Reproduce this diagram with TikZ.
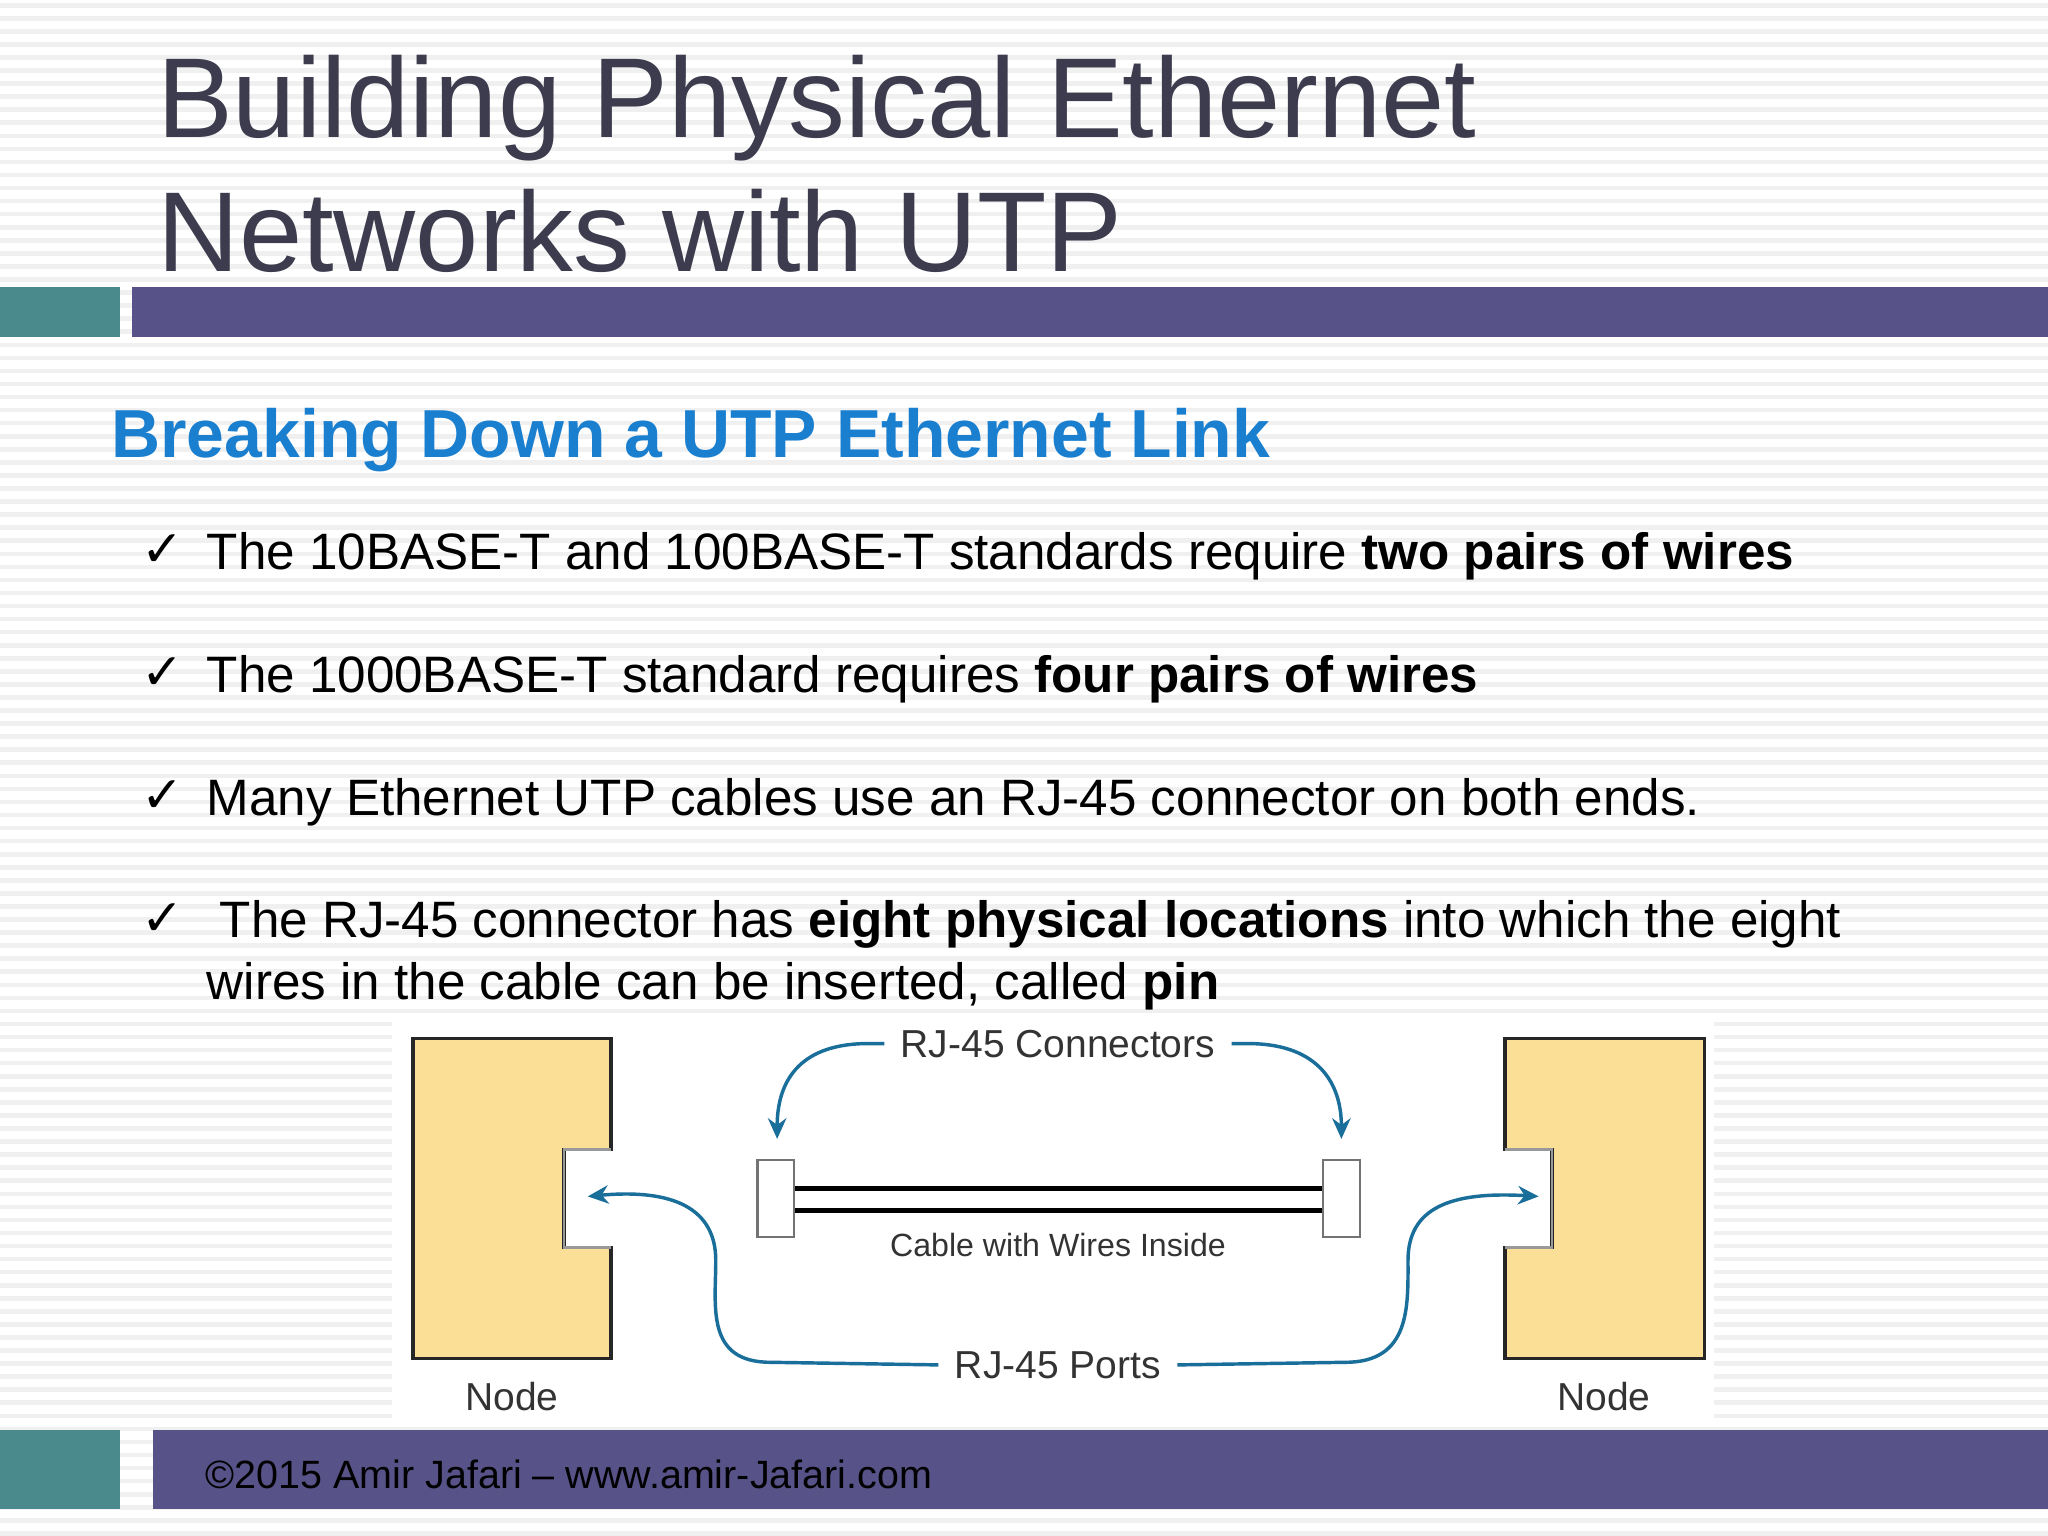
\documentclass[tikz,border=0pt]{standalone}
\usepackage{fontspec}
\setmainfont{Liberation Sans}
\usetikzlibrary{arrows.meta}
\newfontfamily\symf{DejaVu Sans}
\definecolor{barpurple}{HTML}{575287}
\definecolor{barteal}{HTML}{4A8A8C}
\definecolor{titlegray}{HTML}{3C3C4E}
\definecolor{subblue}{HTML}{1A7FCF}
\definecolor{nodefill}{HTML}{FBDF97}
\definecolor{arrowblue}{HTML}{1A6E9A}
\tikzset{
  bullet/.style={anchor=base west,font=\fontsize{22.3}{26}\selectfont,text=black,inner sep=0},
  chk/.style={anchor=base west,font=\symf\fontsize{22}{24}\selectfont,inner sep=0},
  pc/.style={fill=nodefill,draw=black!85,line width=1.6pt},
  conn/.style={fill=white,draw=black!55,line width=1pt},
  flow/.style={draw=arrowblue,line width=1.5pt,-{Stealth[length=9pt,width=8pt]}},
  dlabel/.style={font=\fontsize{17}{20}\selectfont,text=black!80,inner sep=2pt},
  glabel/.style={dlabel,inner xsep=7pt}
}
\begin{document}
\begin{tikzpicture}[x=0.02cm,y=-0.02cm]
\useasboundingbox (0,0) rectangle (1568,1176);
\fill[white] (0,0) rectangle (1568,1176);
\foreach \y in {4,14,...,1176} \draw[black!6,line width=2pt] (0,\y) -- (1568,\y);
% title
\node[anchor=base west,inner sep=0,text=titlegray,font=\fontsize{49.5}{58}\selectfont] (t1) at (120,105) {Building Physical Ethernet};
\node[anchor=base west,inner sep=0,text=titlegray,font=\fontsize{49.5}{58}\selectfont] (t2) at (120,208) {Networks with UTP};
\fill[barteal] (0,220) rectangle (92,258);
\fill[barpurple] (101,220) rectangle (1568,258);
\node[anchor=base west,inner sep=0,text=subblue,font=\bfseries\fontsize{29.6}{34}\selectfont] (sub) at (85,350) {Breaking Down a UTP Ethernet Link};
% bullets
\node[chk] (c1) at (108,434) {✓};
\node[bullet] (b1) at (158,436) {The 10BASE-T and 100BASE-T standards require \textbf{two pairs of wires}};
\node[chk] (c2) at (108,528) {✓};
\node[bullet] (b2) at (158,530) {The 1000BASE-T standard requires \textbf{four pairs of wires}};
\node[chk] (c3) at (108,622) {✓};
\node[bullet] (b3) at (158,624) {Many Ethernet UTP cables use an RJ-45 connector on both ends.};
\node[chk] (c4) at (108,716) {✓};
\node[bullet] (b4) at (168,718) {The RJ-45 connector has \textbf{eight physical locations} into which the eight};
\node[bullet] (b5) at (158,765) {wires in the cable can be inserted, called \textbf{pin}};
% diagram
\fill[white] (300,782) rectangle (1312,1090);
\draw[pc] (316,795) -- (468,795) -- (468,880) -- (432,880) -- (432,955) -- (468,955) -- (468,1040) -- (316,1040) -- cycle;
\draw[pc] (1305,795) -- (1152,795) -- (1152,880) -- (1188,880) -- (1188,955) -- (1152,955) -- (1152,1040) -- (1305,1040) -- cycle;
\fill[white] (433,882) rectangle (470,953);
\fill[white] (1150,882) rectangle (1187,953);
\draw[black!40,line width=1pt] (468,880)--(432,880)--(432,955)--(468,955);
\draw[black!40,line width=1pt] (1152,880)--(1188,880)--(1188,955)--(1152,955);
\node[conn,minimum width=28*0.02cm,minimum height=59*0.02cm] (lc) at (594,917.5) {};
\node[conn,minimum width=28*0.02cm,minimum height=59*0.02cm] (rc) at (1027,917.5) {};
\draw[black,line width=2pt] (lc.east|-0,910) -- (rc.west|-0,910);
\draw[black,line width=2pt] (lc.east|-0,927) -- (rc.west|-0,927);
\node[glabel] (rj) at (810,799) {RJ-45 Connectors};
\node[dlabel,font=\fontsize{14}{16}\selectfont] (cab) at (810,953) {Cable with Wires Inside};
\node[glabel] (ports) at (810,1045) {RJ-45 Ports};
\node[dlabel] (n1) at (392,1069) {Node};
\node[dlabel] (n2) at (1228,1069) {Node};
\coordinate (pl) at (450,916);
\coordinate (pr) at (1178,916);
\draw[flow] (rj.west) -- ++(-15,0) .. controls (610,800) and (595,830) .. (595,872);
\draw[flow] (rj.east) -- ++(15,0) .. controls (1010,800) and (1027,830) .. (1027,872);
\draw[flow] (ports.west) -- (590,1043) .. controls (540,1043) and (548,1000) .. (548,965) .. controls (548,925) and (515,910) .. (pl);
\draw[flow] (ports.east) -- (1030,1043) .. controls (1080,1043) and (1078,1000) .. (1078,965) .. controls (1078,925) and (1110,912) .. (pr);
% footer
\fill[barteal] (0,1095) rectangle (92,1155);
\fill[barpurple] (117,1095) rectangle (1568,1155);
\node[anchor=base west,inner sep=0,font=\fontsize{17.2}{20}\selectfont,text=black] (foot) at (157,1140) {©2015 Amir Jafari – www.amir-Jafari.com};
\end{tikzpicture}
\end{document}
